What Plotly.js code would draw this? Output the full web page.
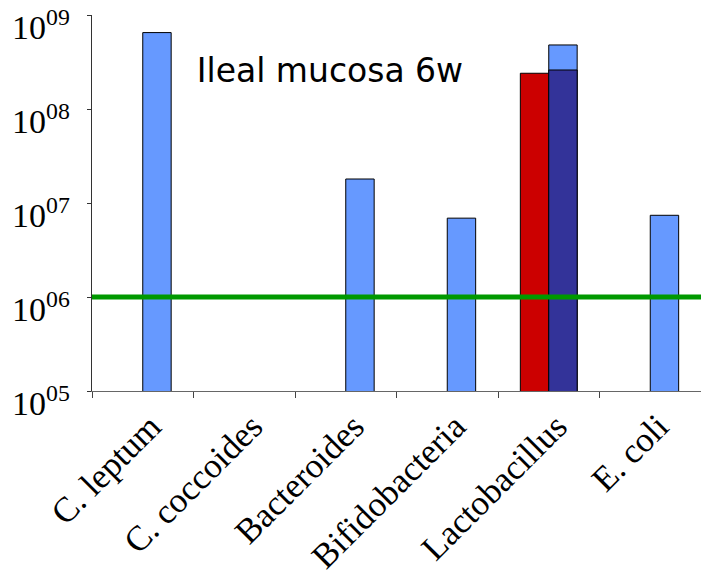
<!DOCTYPE html>
<html>
<head>
<meta charset="utf-8">
<script src="https://cdn.plot.ly/plotly-3.0.1.min.js"></script>
<style>html,body{margin:0;padding:0;background:#fff;}#chart{width:701px;height:576px;}</style>
</head>
<body>
<div id="chart"></div>
<script>
// ---- data ----
var categories = ["C. leptum", "C. coccoides", "Bacteroides", "Bifidobacteria", "Lactobacillus", "E. coli"];
var seriesRed = [null, null, null, null, 2.4e8, null];
var seriesLightBlue = [6.5e8, null, 1.8e7, 6.9e6, 4.8e8, 7.4e6];
var seriesDarkBlue = [null, null, null, null, 2.6e8, null];
var threshold = 1e6;
var yTickVals = [1e5, 1e6, 1e7, 1e8, 1e9];
var yTickText = ["10<sup>05</sup>", "10<sup>06</sup>", "10<sup>07</sup>", "10<sup>08</sup>", "10<sup>09</sup>"];
var chartTitle = "Ileal mucosa 6w";

var barW = 0.28;
var edge = {color: "#000000", width: 1};

var traces = [
  {type: "bar", x: categories, y: seriesRed, width: barW, offset: -barW,
   marker: {color: "#CC0000", line: edge}, hoverinfo: "skip"},
  {type: "bar", x: categories, y: seriesLightBlue, width: barW, offset: 0,
   marker: {color: "#6699FF", line: edge}, hoverinfo: "skip"},
  {type: "bar", x: categories, y: seriesDarkBlue, width: barW, offset: 0,
   marker: {color: "#333399", line: edge}, hoverinfo: "skip"},
  {type: "scatter", mode: "lines", x: [0, 1], y: [threshold, threshold],
   xaxis: "x2", yaxis: "y", line: {color: "#009900", width: 5}, hoverinfo: "skip"}
];

// y tick labels drawn as annotations (placed slightly below each tick, as in the reference)
var yLabelAnnots = yTickVals.map(function (v, i) {
  return {text: yTickText[i], xref: "paper", x: 0, xanchor: "right", xshift: -20,
          yref: "y", y: Math.log10(v), yanchor: "middle", yshift: -10,
          showarrow: false, font: {family: "Liberation Serif", size: 34, color: "#000"}};
});

var layout = {
  width: 701, height: 576,
  margin: {l: 92, r: 0, t: 15, b: 185},
  paper_bgcolor: "#ffffff", plot_bgcolor: "#ffffff",
  showlegend: false,
  barmode: "overlay",
  title: {text: chartTitle, x: 0.172, xref: "paper", xanchor: "left",
          y: 1 - 70/576, yref: "container", yanchor: "middle",
          font: {family: "DejaVu Sans", size: 33, color: "#000"}},
  xaxis: {type: "category", range: [-0.5, 5.5], showgrid: false, zeroline: false,
          showline: true, linecolor: "#666", linewidth: 1,
          ticks: "outside", tickson: "boundaries", ticklen: 6, tickcolor: "#444",
          tickangle: -45, ticklabelshift: 8, ticklabelstandoff: 0,
          tickfont: {family: "Liberation Serif", size: 35, color: "#000"}},
  xaxis2: {overlaying: "x", range: [0, 1], visible: false, fixedrange: true},
  yaxis: {type: "log", range: [5, 9], showgrid: false, zeroline: false,
          showline: true, linecolor: "#333", linewidth: 1,
          ticks: "outside", ticklen: 4, tickcolor: "#333",
          tickmode: "array", tickvals: yTickVals, showticklabels: false},
  annotations: yLabelAnnots
};

Plotly.newPlot("chart", traces, layout, {staticPlot: true});
</script>
</body>
</html>
